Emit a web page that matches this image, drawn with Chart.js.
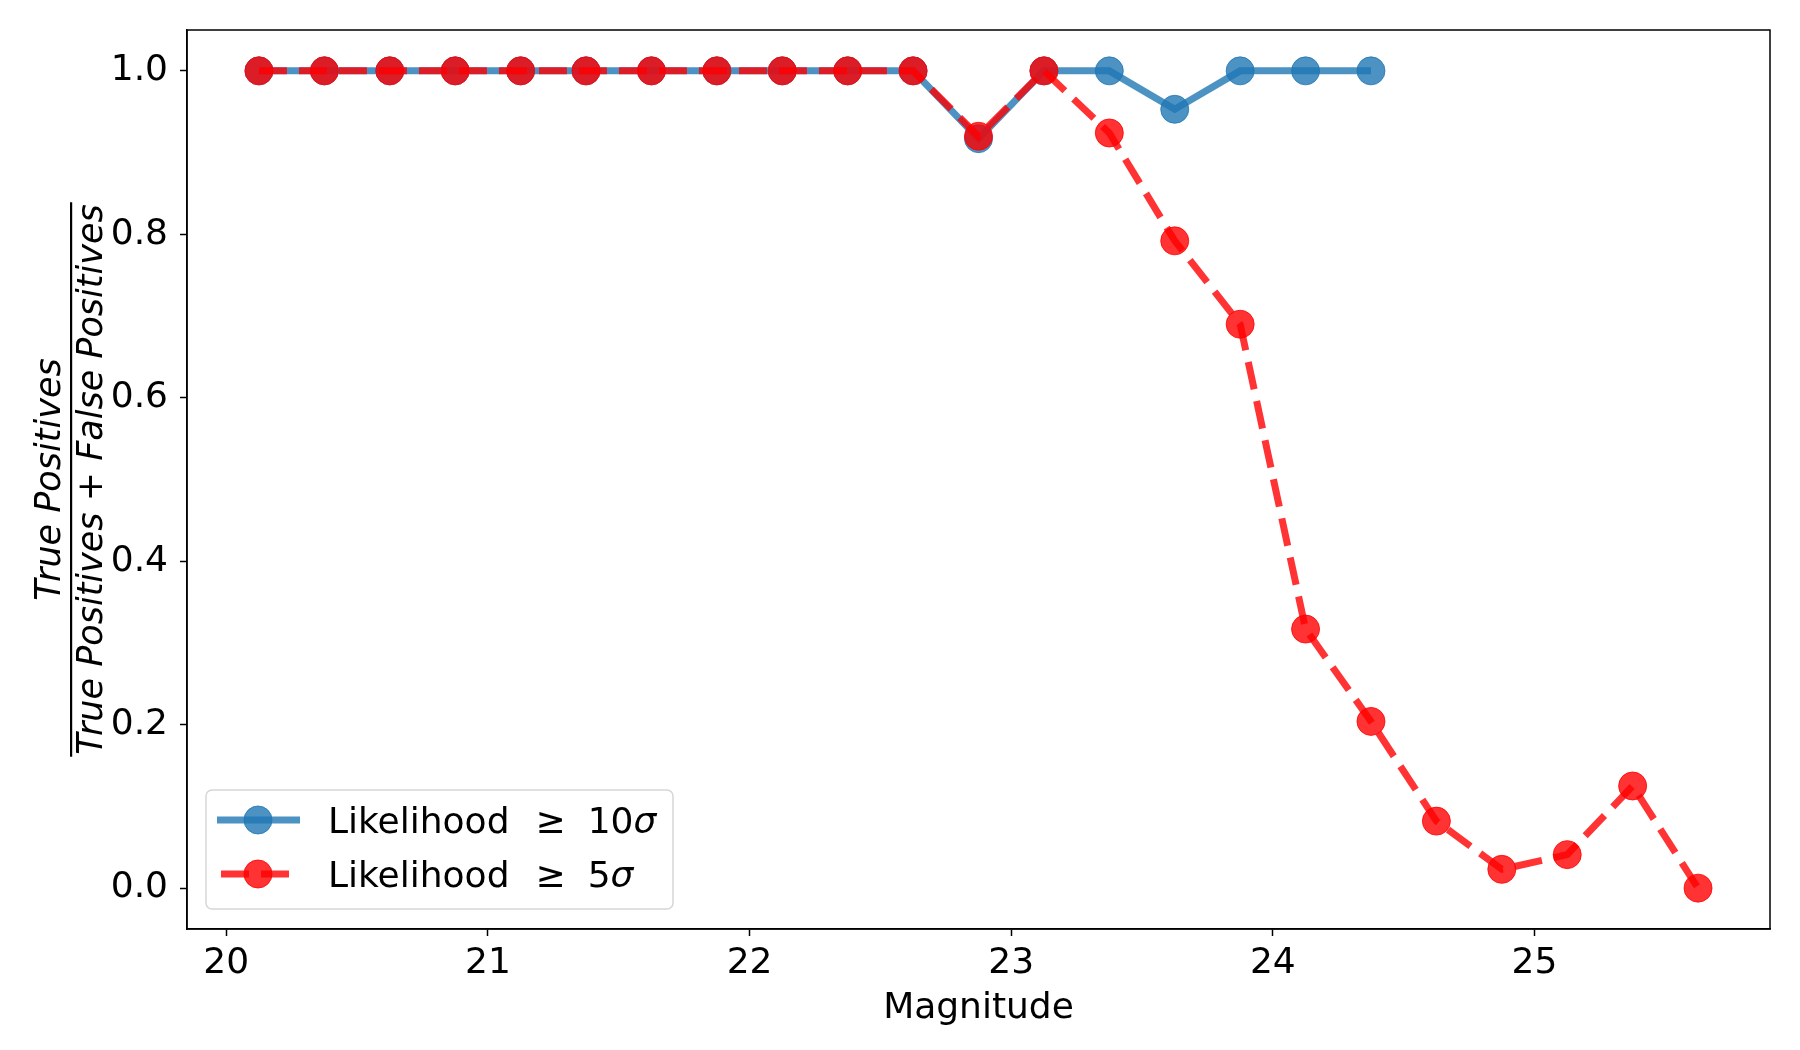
<!DOCTYPE html>
<html>
<head>
<meta charset="utf-8">
<script src="https://cdn.jsdelivr.net/npm/chart.js@4.4.1/dist/chart.umd.min.js"></script>
<style>
  html, body { margin: 0; padding: 0; background: #fff; }
  #wrap { width: 1800px; height: 1050px; }
</style>
</head>
<body>
<div id="wrap"><canvas id="chart" width="1800" height="1050"></canvas></div>
<script>
// data
const mags10 = [20.125, 20.375, 20.625, 20.875, 21.125, 21.375, 21.625, 21.875, 22.125, 22.375, 22.625, 22.875, 23.125, 23.375, 23.625, 23.875, 24.125, 24.375];
const eff10 = [1, 1, 1, 1, 1, 1, 1, 1, 1, 1, 1, 0.917, 1, 1, 0.953, 1, 1, 1];
const mags5 = [20.125, 20.375, 20.625, 20.875, 21.125, 21.375, 21.625, 21.875, 22.125, 22.375, 22.625, 22.875, 23.125, 23.375, 23.625, 23.875, 24.125, 24.375, 24.625, 24.875, 25.125, 25.375, 25.625];
const eff5 = [1, 1, 1, 1, 1, 1, 1, 1, 1, 1, 1, 0.92, 1, 0.924, 0.792, 0.69, 0.317, 0.204, 0.082, 0.023, 0.041, 0.125, 0];
const xTicks = [20, 21, 22, 23, 24, 25];
const yTicks = [0, 0.2, 0.4, 0.6, 0.8, 1.0];
const labels = ['Likelihood', 'Likelihood'];
const sigmas = ['10', '5'];

const FONT = "'DejaVu Sans', sans-serif";
const BLUE = 'rgba(31, 119, 180, 0.8)';
const RED = 'rgba(255, 0, 0, 0.8)';
const DASH = [28, 12];

const toPts = (xs, ys) => xs.map((x, i) => ({ x: x, y: ys[i] }));

// frame on all four sides + y label fraction + legend box
const extras = {
    id: 'extras',
    afterDraw(chart) {
        const ctx = chart.ctx;
        const a = chart.chartArea;
        ctx.save();
        ctx.strokeStyle = '#000';
        ctx.lineWidth = 1.5;
        ctx.strokeRect(a.left, a.top, a.right - a.left, a.bottom - a.top);

        // y axis label as a fraction
        const cy = (a.top + a.bottom) / 2;
        ctx.translate(71, cy);
        ctx.rotate(-Math.PI / 2);
        ctx.fillStyle = '#000';
        ctx.textBaseline = 'middle';
        ctx.textAlign = 'left';
        const it = "italic 35px " + FONT, up = "35px " + FONT;
        ctx.font = it;
        const num = 'True Positives';
        const wNum = ctx.measureText(num).width;
        ctx.fillText(num, -wNum / 2, -20);
        const parts = [['True Positives', it], [' + ', up], ['False Positives', it]];
        let wDen = 0;
        parts.forEach(p => { ctx.font = p[1]; wDen += ctx.measureText(p[0]).width; });
        let px = -wDen / 2;
        parts.forEach(p => { ctx.font = p[1]; ctx.fillText(p[0], px, 22); px += ctx.measureText(p[0]).width; });
        ctx.fillRect(-wDen / 2 - 2, -1, wDen + 4, 2.2);
        ctx.setTransform(1, 0, 0, 1, 0, 0);

        // legend
        const bx = 206, by = 790, bw = 467, bh = 119;
        ctx.beginPath();
        ctx.roundRect(bx, by, bw, bh, 6);
        ctx.fillStyle = 'rgba(255,255,255,0.8)';
        ctx.fill();
        ctx.strokeStyle = '#d6d6d6';
        ctx.lineWidth = 1.5;
        ctx.stroke();
        chart.data.datasets.forEach((ds, i) => {
            const ly = 820 + i * 54;
            ctx.save();
            ctx.strokeStyle = ds.borderColor;
            ctx.lineWidth = ds.borderWidth;
            ctx.setLineDash(ds.borderDash || []);
            ctx.beginPath();
            if (ds.borderDash) { ctx.moveTo(221, ly); ctx.lineTo(296, ly); }
            else { ctx.moveTo(217, ly); ctx.lineTo(300, ly); }
            ctx.stroke();
            ctx.restore();
            ctx.beginPath();
            ctx.arc(258, ly, ds.pointRadius, 0, Math.PI * 2);
            ctx.fillStyle = ds.pointBackgroundColor;
            ctx.fill();
            ctx.strokeStyle = ds.pointBorderColor;
            ctx.lineWidth = 1;
            ctx.stroke();

            ctx.fillStyle = '#000';
            ctx.textBaseline = 'middle';
            ctx.font = "36px " + FONT;
            const ty = ly + 4;
            let tx = 328;
            ctx.fillText(labels[i], tx, ty);
            tx += ctx.measureText(labels[i]).width + 26;
            ctx.fillText('\u2265', tx, ty);
            tx += ctx.measureText('\u2265').width + 22;
            ctx.fillText(sigmas[i], tx, ty);
            tx += ctx.measureText(sigmas[i]).width;
            ctx.font = "italic 36px " + FONT;
            ctx.fillText('\u03c3', tx, ty);
        });
        ctx.restore();
    }
};

new Chart(document.getElementById('chart'), {
    type: 'line',
    data: {
        datasets: [
            {
                label: 'Likelihood \u2265 10\u03c3',
                data: toPts(mags10, eff10),
                borderColor: BLUE, borderWidth: 7,
                pointRadius: 14, pointBackgroundColor: BLUE, pointBorderColor: BLUE, pointBorderWidth: 1,
                tension: 0, order: 1
            },
            {
                label: 'Likelihood \u2265 5\u03c3',
                data: toPts(mags5, eff5),
                borderColor: RED, borderWidth: 7, borderDash: DASH,
                pointRadius: 14, pointBackgroundColor: RED, pointBorderColor: RED, pointBorderWidth: 1,
                tension: 0, order: 0
            }
        ]
    },
    options: {
        responsive: false,
        animation: false,
        devicePixelRatio: 1,
        layout: { padding: { top: 30, right: 30, left: 0, bottom: 0 } },
        plugins: { legend: { display: false }, tooltip: { enabled: false } },
        scales: {
            x: {
                type: 'linear', min: 19.85, max: 25.9,
                afterFit: s => { s.height = 121; s.paddingLeft = 0; s.paddingRight = 0; },
                afterBuildTicks: s => { s.ticks = xTicks.map(v => ({ value: v })); },
                ticks: { font: { family: FONT, size: 36 }, color: '#000', padding: 6, callback: v => String(v) },
                grid: { drawOnChartArea: false, drawTicks: true, tickLength: 7, tickColor: '#000', tickWidth: 1.5 },
                border: { display: true, color: '#000', width: 1.5 },
                title: { display: true, text: 'Magnitude', color: '#000', font: { family: FONT, size: 36 }, padding: { top: 0, bottom: 20 } }
            },
            y: {
                type: 'linear', min: -0.05, max: 1.05,
                afterFit: s => { s.width = 187; s.paddingTop = 0; s.paddingBottom = 0; },
                afterBuildTicks: s => { s.ticks = yTicks.map(v => ({ value: v })); },
                ticks: { font: { family: FONT, size: 36 }, color: '#000', padding: 12, callback: v => v.toFixed(1) },
                grid: { drawOnChartArea: false, drawTicks: true, tickLength: 7, tickColor: '#000', tickWidth: 1.5 },
                border: { display: true, color: '#000', width: 1.5 }
            }
        }
    },
    plugins: [extras]
});
</script>
</body>
</html>
